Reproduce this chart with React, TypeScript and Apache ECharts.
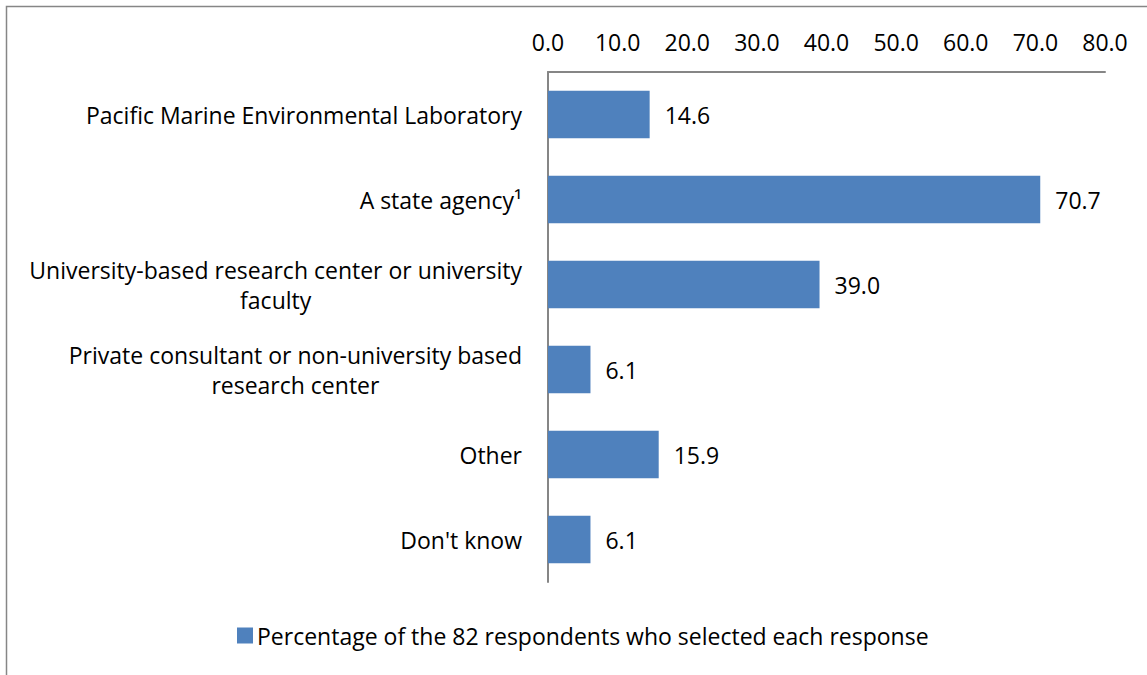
import React, { useEffect, useRef } from "react";
import * as echarts from "echarts";

const categories: string[] = [
  "Pacific Marine Environmental Laboratory",
  "A state agency\u00b9",
  "University-based research center or university\nfaculty",
  "Private consultant or non-university based\nresearch center",
  "Other",
  "Don't know",
];
const values: number[] = [14.6, 70.7, 39.0, 6.1, 15.9, 6.1];
const seriesName = "Percentage of the 82 respondents who selected each response";
const axisMin = 0;
const axisMax = 80;
const axisInterval = 10;

const FONT = "'Open Sans', 'Noto Sans', sans-serif";
const FS = 23;

export default function App() {
  const ref = useRef<HTMLDivElement>(null);
  useEffect(() => {
    if (!ref.current) return;
    const chart = echarts.init(ref.current, null, { renderer: "svg" });
    chart.setOption({
      animation: false,
      backgroundColor: "#ffffff",
      textStyle: { fontFamily: FONT },
      graphic: [
        {
          type: "rect",
          shape: { x: 6.5, y: 6.5, width: 1160, height: 700 },
          style: { fill: "none", stroke: "#868686", lineWidth: 1.5 },
          silent: true,
        },
      ],
      legend: {
        top: 624,
        left: 237,
        itemWidth: 16,
        itemHeight: 16,
        itemGap: 6,
        icon: "rect",
        padding: 0,
        textStyle: { fontSize: FS, color: "#000", fontFamily: FONT, padding: [0, 0, 0, -1] },
        data: [seriesName],
      },
      grid: { left: 548, right: 42, top: 72, bottom: 93, containLabel: false },
      xAxis: {
        type: "value",
        position: "top",
        min: axisMin,
        max: axisMax,
        interval: axisInterval,
        axisLine: { show: true, lineStyle: { color: "#868686", width: 2 } },
        axisTick: { show: false },
        splitLine: { show: false },
        axisLabel: {
          fontSize: FS,
          color: "#000",
          margin: 19,
          formatter: (v: number) => v.toFixed(1),
        },
      },
      yAxis: {
        type: "category",
        inverse: true,
        data: categories,
        axisLine: { show: true, lineStyle: { color: "#868686", width: 2 } },
        axisTick: { show: false },
        axisLabel: {
          margin: 26,
          align: "right",
          formatter: (v: string) =>
            v
              .split("\n")
              .map((l) => `{c|${l}}`)
              .join("\n"),
          rich: {
            c: { fontSize: FS, color: "#000", align: "center", lineHeight: 30, fontFamily: FONT },
          },
        },
      },
      series: [
        {
          name: seriesName,
          type: "bar",
          data: values,
          barWidth: "56%",
          itemStyle: { color: "#4F81BD" },
          label: {
            show: true,
            position: "right",
            distance: 15,
            fontSize: FS,
            color: "#000",
            formatter: (p: any) => Number(p.value).toFixed(1),
          },
        },
      ],
    });
    return () => chart.dispose();
  }, []);
  return (
    <div
      ref={ref}
      style={{ position: "fixed", left: 0, top: 0, width: 1147, height: 675 }}
    />
  );
}
